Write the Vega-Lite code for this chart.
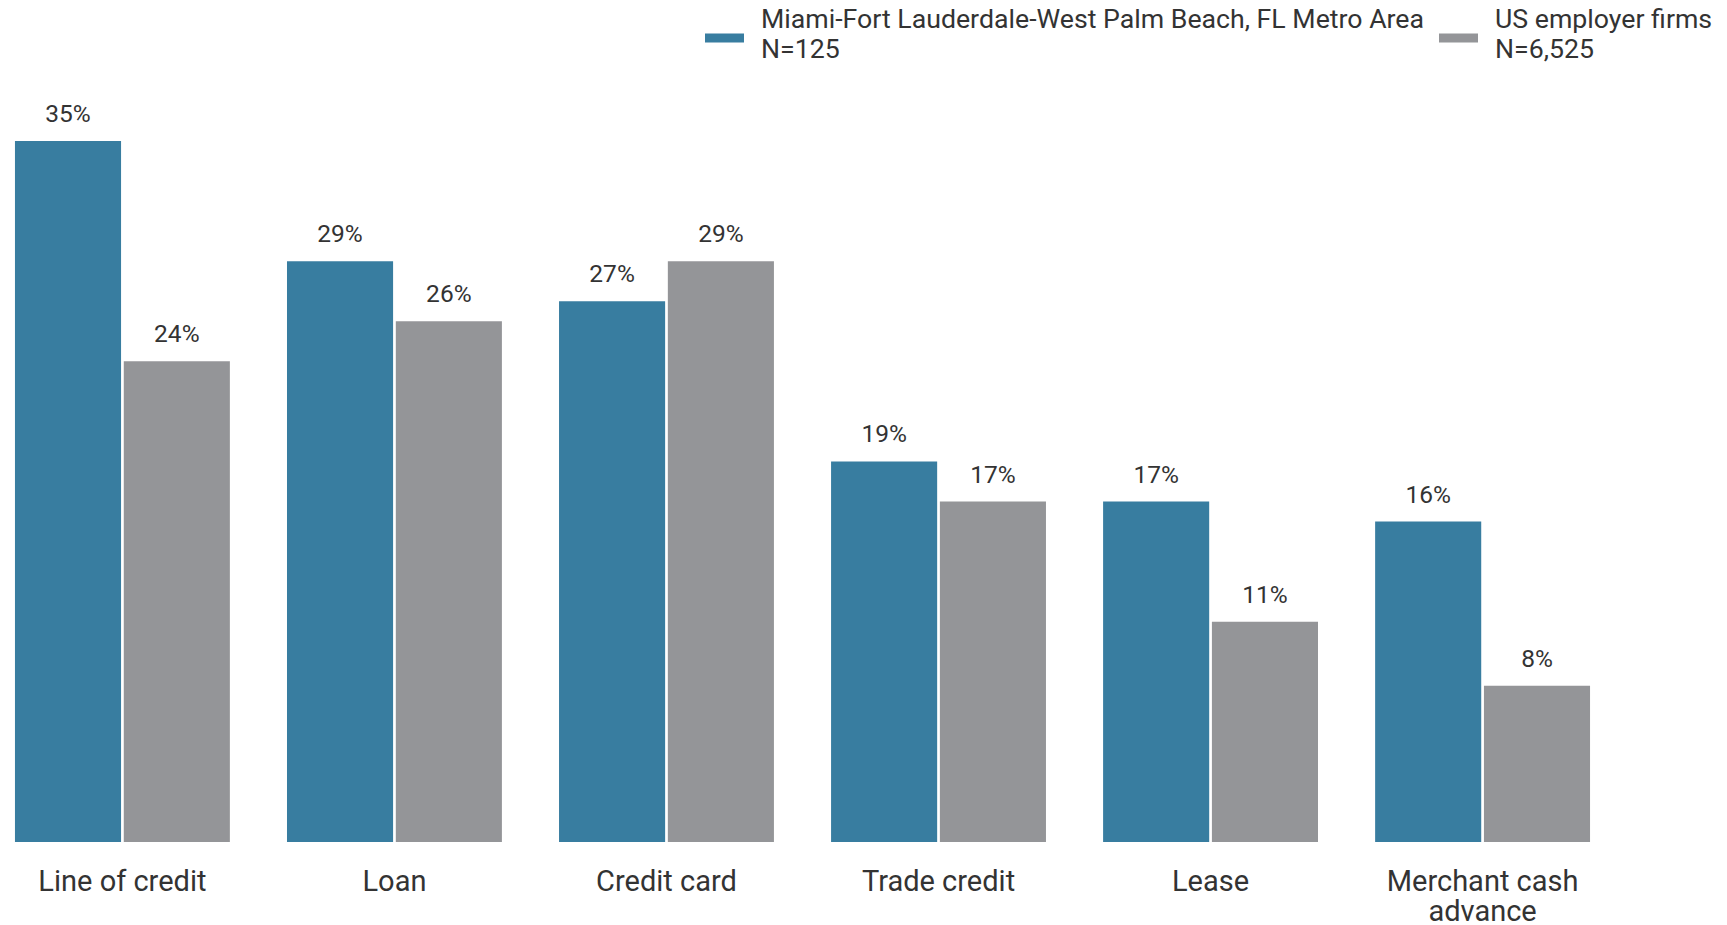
{
  "$schema": "https://vega.github.io/schema/vega-lite/v6.json",
  "width": 1605,
  "height": 701,
  "autosize": {"type": "none"},
  "padding": {"left": 0, "top": 141, "right": 122, "bottom": 83},
  "config": {"view": {"stroke": null}, "font": "Roboto"},
  "data": {
    "values": [
      {"category": "Line of credit", "series": "Miami-Fort Lauderdale-West Palm Beach, FL Metro Area", "value": 0.35},
      {"category": "Line of credit", "series": "US employer firms", "value": 0.24},
      {"category": "Loan", "series": "Miami-Fort Lauderdale-West Palm Beach, FL Metro Area", "value": 0.29},
      {"category": "Loan", "series": "US employer firms", "value": 0.26},
      {"category": "Credit card", "series": "Miami-Fort Lauderdale-West Palm Beach, FL Metro Area", "value": 0.27},
      {"category": "Credit card", "series": "US employer firms", "value": 0.29},
      {"category": "Trade credit", "series": "Miami-Fort Lauderdale-West Palm Beach, FL Metro Area", "value": 0.19},
      {"category": "Trade credit", "series": "US employer firms", "value": 0.17},
      {"category": "Lease", "series": "Miami-Fort Lauderdale-West Palm Beach, FL Metro Area", "value": 0.17},
      {"category": "Lease", "series": "US employer firms", "value": 0.11},
      {"category": "Merchant cash advance", "series": "Miami-Fort Lauderdale-West Palm Beach, FL Metro Area", "value": 0.16},
      {"category": "Merchant cash advance", "series": "US employer firms", "value": 0.078}
    ]
  },
  "encoding": {
    "x": {
      "field": "category",
      "type": "nominal",
      "sort": null,
      "scale": {"paddingInner": 0.21, "paddingOuter": 0.055},
      "axis": {
        "title": null,
        "domain": false,
        "ticks": false,
        "labelAngle": 0,
        "labelFont": "Roboto",
        "labelFontSize": 29,
        "labelColor": "#333333",
        "labelPadding": 25,
        "labelBaseline": "top",
        "labelLineHeight": 30,
        "labelLimit": 0,
        "labelExpr": "datum.label == 'Merchant cash advance' ? ['Merchant cash', 'advance'] : datum.label"
      }
    },
    "xOffset": {
      "field": "series",
      "type": "nominal",
      "sort": ["Miami-Fort Lauderdale-West Palm Beach, FL Metro Area", "US employer firms"],
      "scale": {"paddingInner": 0.025}
    },
    "y": {
      "field": "value",
      "type": "quantitative",
      "scale": {"domain": [0, 0.35]},
      "axis": null
    }
  },
  "layer": [
    {
      "mark": {"type": "bar"},
      "encoding": {
        "color": {
          "field": "series",
          "type": "nominal",
          "scale": {
            "domain": ["Miami-Fort Lauderdale-West Palm Beach, FL Metro Area", "US employer firms"],
            "range": ["#387da0", "#949598"]
          },
          "legend": {
            "title": null,
            "orient": "none",
            "direction": "horizontal",
            "legendX": 705,
            "legendY": -123,
            "padding": 0,
            "columnPadding": 14,
            "labelOffset": 17,
            "symbolType": "M-1,-0.23H1V0.23H-1Z",
            "symbolSize": 1521,
            "symbolStrokeWidth": 0,
            "symbolOpacity": 1,
            "labelFont": "Roboto",
            "labelFontSize": 26.7,
            "labelColor": "#333333",
            "labelLimit": 0,
            "labelBaseline": "middle",
            "labelExpr": "[datum.label, datum.label == 'US employer firms' ? 'N=6,525' : 'N=125']",
            "encode": {"labels": {"update": {"lineHeight": {"value": 30}, "dy": {"value": -18}}}}
          }
        }
      }
    },
    {
      "mark": {"type": "text", "dy": -19, "baseline": "alphabetic", "fontSize": 24.5, "font": "Roboto", "color": "#333333"},
      "encoding": {
        "text": {"field": "value", "type": "quantitative", "format": ".0%"}
      }
    }
  ]
}
